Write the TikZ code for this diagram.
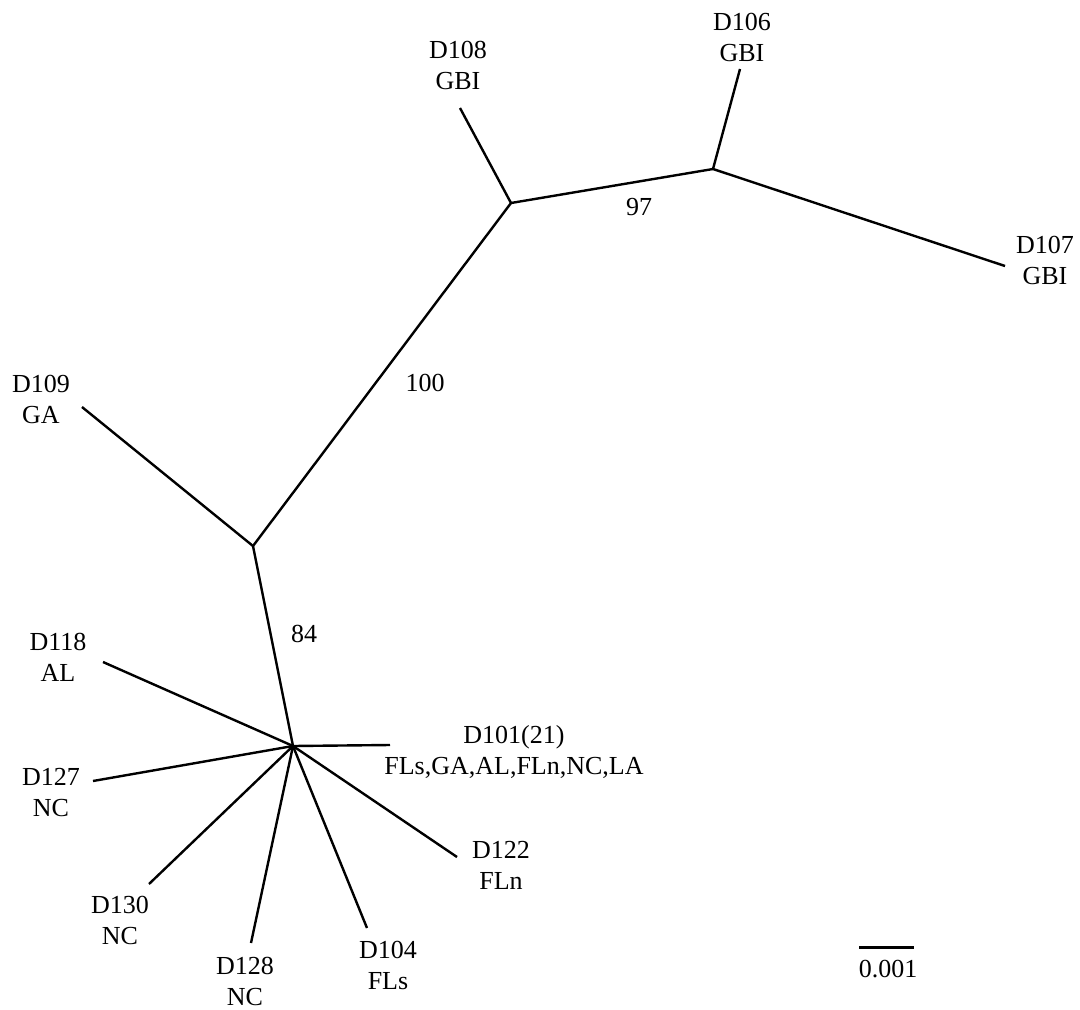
\documentclass[tikz,border=0pt]{standalone}
\usepackage{fontspec}
\setmainfont{Liberation Serif}
\begin{document}
\begin{tikzpicture}[x=1pt,y=-1pt,
  branch/.style={line width=2.4pt,line join=round},
  lab/.style={anchor=base,inner sep=0pt,font=\fontsize{26}{31}\selectfont},
  boot/.style={anchor=base,inner sep=0pt,font=\fontsize{26}{31}\selectfont}]
\useasboundingbox (0,0) rectangle (1080,1010);
% internal nodes
\coordinate (H) at (293,746);
\coordinate (A) at (253,546);
\coordinate (B) at (511,203);
\coordinate (C) at (713,169);
% leaf ends
\coordinate (e106) at (740,69);
\coordinate (e107) at (1005,266);
\coordinate (e108) at (460,108);
\coordinate (e109) at (82,407);
\coordinate (e118) at (103,662);
\coordinate (e101) at (390,745);
\coordinate (e127) at (93,781);
\coordinate (e122) at (457,857);
\coordinate (e130) at (149,884);
\coordinate (e104) at (367,928);
\coordinate (e128) at (251,943);
% branches
\draw[branch] (H) -- (A);
\draw[branch] (A) -- (B);
\draw[branch] (B) -- (C);
\draw[branch] (C) -- (e106);
\draw[branch] (C) -- (e107);
\draw[branch] (B) -- (e108);
\draw[branch] (A) -- (e109);
\draw[branch] (H) -- (e118);
\draw[branch] (H) -- (e101);
\draw[branch] (H) -- (e127);
\draw[branch] (H) -- (e122);
\draw[branch] (H) -- (e130);
\draw[branch] (H) -- (e104);
\draw[branch] (H) -- (e128);
% labels
\newcommand{\twol}[2]{\begin{tabular}[t]{@{}c@{}}#1\\#2\end{tabular}}
\node[lab] (t106) at (742,30) {\twol{D106}{GBI}};
\node[lab] (t107) at (1045,253) {\twol{D107}{GBI}};
\node[lab] (t108) at (458,58) {\twol{D108}{GBI}};
\node[lab] (t109) at (41,392) {\twol{D109}{GA}};
\node[lab] (t118) at (58,650) {\twol{D118}{AL}};
\node[lab] (t101) at (514,743) {\twol{D101(21)}{FLs,GA,AL,FLn,NC,LA}};
\node[lab] (t127) at (51,785) {\twol{D127}{NC}};
\node[lab] (t122) at (501,858) {\twol{D122}{FLn}};
\node[lab] (t130) at (120,913) {\twol{D130}{NC}};
\node[lab] (t104) at (388,958) {\twol{D104}{FLs}};
\node[lab] (t128) at (245,974) {\twol{D128}{NC}};
% bootstrap values
\node[boot] (b97) at (639,215) {97};
\node[boot] (b100) at (425,391) {100};
\node[boot] (b84) at (304,642) {84};
% scale bar
\coordinate (s1) at (859,947);
\coordinate (s2) at (914,947);
\draw[line width=3pt] (s1) -- (s2);
\node[boot] (sl) at (888,977) {0.001};
\end{tikzpicture}
\end{document}
